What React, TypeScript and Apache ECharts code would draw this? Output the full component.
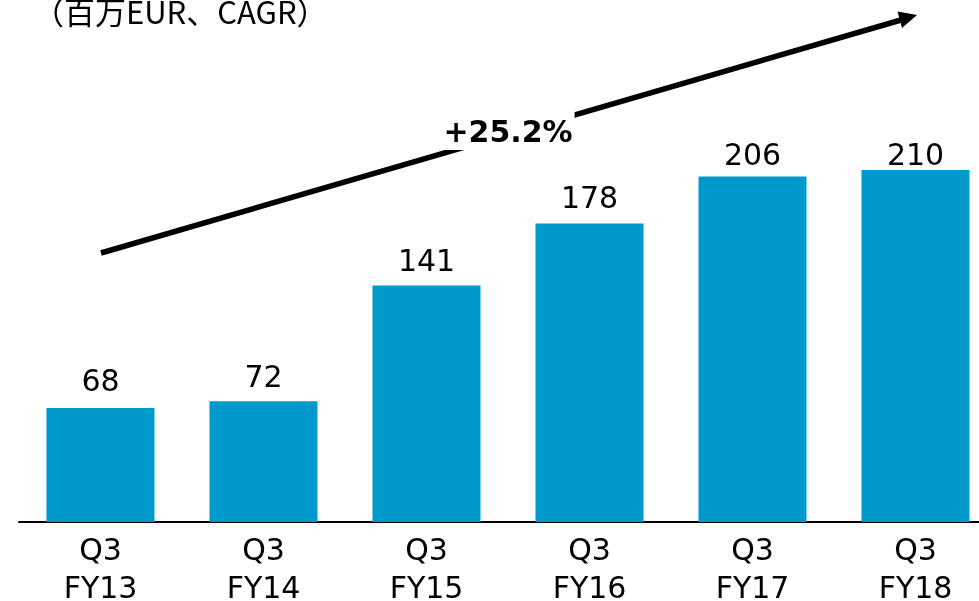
import React, { useEffect, useRef } from "react";
import * as echarts from "echarts";

const titleText = "（百万EUR、CAGR）";
const categories = ["Q3\nFY13", "Q3\nFY14", "Q3\nFY15", "Q3\nFY16", "Q3\nFY17", "Q3\nFY18"];
const revenue = [68, 72, 141, 178, 206, 210];
const cagrLabel = "+25.2%";

// label nudges (px) that the original layout applies to keep labels clear of the arrow
const labelNudge = [0, 2, 2, 1, 5, 12];

export default function App() {
  const ref = useRef<HTMLDivElement>(null);
  useEffect(() => {
    if (!ref.current) return;
    const chart = echarts.init(ref.current, null, { renderer: "svg" });
    chart.setOption({
      animation: false,
      title: {
        text: titleText,
        left: 33,
        top: -5,
        padding: 0,
        textStyle: {
          fontFamily: "'Noto Sans CJK JP', sans-serif",
          fontSize: 31,
          fontWeight: "normal",
          color: "#000",
        },
      },
      grid: { left: 19, top: 19, width: 978, height: 503, outerBoundsMode: "none", containLabel: false },
      xAxis: {
        type: "category",
        data: categories,
        axisLine: { show: true, lineStyle: { color: "#000", width: 2 } },
        axisTick: { show: false },
        axisLabel: {
          color: "#000",
          fontFamily: "'DejaVu Sans', sans-serif",
          fontSize: 30,
          lineHeight: 38,
          margin: 8,
          interval: 0,
        },
      },
      yAxis: {
        type: "value",
        min: 0,
        max: 300,
        show: false,
        splitLine: { show: false },
      },
      series: [
        {
          type: "bar",
          data: revenue.map((v, i) => ({ value: v, label: { offset: [0, labelNudge[i]] } })),
          barWidth: 108,
          itemStyle: { color: "#0099cc" },
          label: {
            show: true,
            position: "top",
            distance: 12,
            color: "#000",
            fontFamily: "'DejaVu Sans', sans-serif",
            fontSize: 30,
          },
        },
      ],
      graphic: [
        {
          type: "line",
          z: 10,
          shape: { x1: 101, y1: 253, x2: 901, y2: 20 },
          style: { stroke: "#000", lineWidth: 5.5 },
        },
        {
          type: "polygon",
          z: 11,
          shape: { points: [[917, 15], [897.5, 11.5], [902, 28]] },
          style: { fill: "#000" },
        },
        {
          type: "text",
          z: 12,
          x: 508,
          y: 131,
          style: {
            text: cagrLabel,
            fontFamily: "'DejaVu Sans', sans-serif",
            fontWeight: "bold",
            fontSize: 30,
            fill: "#000",
            align: "center",
            verticalAlign: "middle",
            backgroundColor: "#fff",
            padding: [4, 2],
          },
        },
      ],
    });
    return () => chart.dispose();
  }, []);
  return (
    <div
      ref={ref}
      style={{ position: "fixed", left: 0, top: 0, width: 979, height: 601 }}
    />
  );
}
